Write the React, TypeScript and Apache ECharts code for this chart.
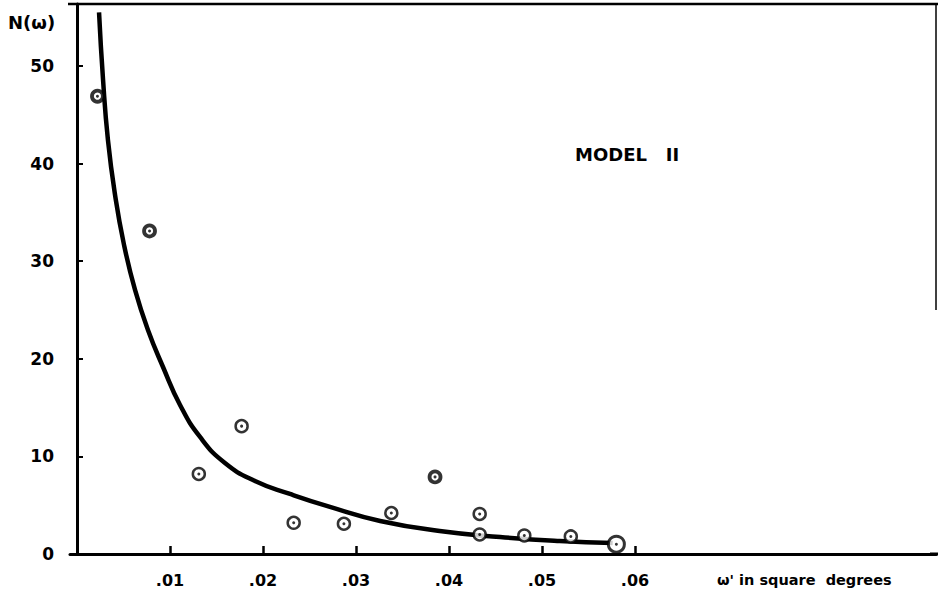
import React, { useEffect, useRef } from "react";
import * as echarts from "echarts";

// observed points: omega (square degrees) and N(omega)
const pointOmega = [0.0022, 0.0078, 0.0131, 0.0177, 0.0233, 0.0287, 0.0338, 0.0385, 0.0433, 0.0433, 0.0481, 0.0531, 0.058];
const pointN = [46.9, 33.1, 8.2, 13.1, 3.2, 3.1, 4.2, 7.9, 4.1, 2.0, 1.9, 1.8, 1.0];

// Model II curve
const curveOmega = [0.00237, 0.0028, 0.00333, 0.00409, 0.00505, 0.00624, 0.00763, 0.00925, 0.01108, 0.01323, 0.01591, 0.01914, 0.0229, 0.0272, 0.0326, 0.039, 0.0455, 0.0519, 0.0576];
const curveN = [55.5, 48.6, 42.4, 36.8, 31.7, 27.05, 22.95, 19.16, 15.27, 11.99, 9.32, 7.48, 6.15, 4.82, 3.38, 2.36, 1.74, 1.33, 1.13];

const xTicks = [0.01, 0.02, 0.03, 0.04, 0.05, 0.06];
const xTickLabels = [".01", ".02", ".03", ".04", ".05", ".06"];
const yTicks = [0, 10, 20, 30, 40, 50];

const darkIdx = [0, 1, 7];
const bigIdx = [12];

const FONT = "DejaVu Sans";

export default function App() {
  const ref = useRef<HTMLDivElement>(null);
  useEffect(() => {
    if (!ref.current) return;
    const chart = echarts.init(ref.current, undefined, { renderer: "svg" });
    const ringData = pointOmega.map((x, i) => {
      const item: any = { value: [x, pointN[i]] };
      if (darkIdx.includes(i)) {
        item.symbolSize = 11;
        item.itemStyle = { color: "#fff", borderColor: "#000", borderWidth: 3.8 };
      } else if (bigIdx.includes(i)) {
        item.symbolSize = 16;
        item.itemStyle = { color: "#fff", borderColor: "#000", borderWidth: 3 };
      }
      return item;
    });
    chart.setOption({
      animation: false,
      backgroundColor: "#fff",
      grid: { left: 70, right: 2, top: 4, bottom: 41 },
      xAxis: {
        type: "value",
        min: -0.000753,
        max: 0.09237,
        splitLine: { show: false },
        axisLine: { show: true, onZero: false, lineStyle: { color: "#000", width: 3 } },
        axisTick: { show: true, inside: true, length: 8, lineStyle: { color: "#000", width: 2.5 }, customValues: xTicks },
        axisLabel: {
          customValues: xTicks,
          formatter: (v: number) => {
            const i = xTicks.findIndex((t) => Math.abs(t - v) < 1e-9);
            return i >= 0 ? xTickLabels[i] : "";
          },
          color: "#000",
          fontFamily: FONT,
          fontWeight: "bold",
          fontSize: 16,
          margin: 18,
        },
      },
      yAxis: {
        type: "value",
        min: 0,
        max: 56.35,
        splitLine: { show: false },
        axisLine: { show: true, lineStyle: { color: "#000", width: 3 } },
        axisTick: { show: true, inside: true, length: 6, lineStyle: { color: "#000", width: 2 }, customValues: yTicks },
        axisLabel: {
          customValues: yTicks,
          color: "#000",
          fontFamily: FONT,
          fontWeight: "bold",
          fontSize: 17,
          margin: 16,
        },
      },
      series: [
        {
          type: "line",
          data: curveOmega.map((x, i) => [x, curveN[i]]),
          smooth: 0.5,
          showSymbol: false,
          lineStyle: { color: "#000", width: 4.5 },
          z: 2,
        },
        {
          type: "scatter",
          data: ringData,
          symbol: "circle",
          symbolSize: 12,
          itemStyle: { color: "#fff", borderColor: "#000", borderWidth: 2.5 },
          z: 3,
        },
        {
          type: "scatter",
          data: pointOmega.map((x, i) => [x, pointN[i]]),
          symbol: "circle",
          symbolSize: 3,
          itemStyle: { color: "#000" },
          z: 4,
        },
      ],
      graphic: [
        { type: "line", z: 100, shape: { x1: 68, y1: 4, x2: 938, y2: 4 }, style: { stroke: "#000", lineWidth: 2.5 } },
        { type: "line", z: 100, shape: { x1: 936, y1: 4, x2: 936, y2: 310 }, style: { stroke: "#000", lineWidth: 1.5 } },
        { type: "line", z: 100, shape: { x1: 930, y1: 554, x2: 938, y2: 554 }, style: { stroke: "#000", lineWidth: 3 } },
        {
          type: "text",
          left: 8,
          top: 13,
          style: { text: "N(ω)", fill: "#000", font: `bold 18px "${FONT}"` },
        },
        {
          type: "text",
          left: 575,
          top: 145,
          style: { text: "MODEL   II", fill: "#000", font: `bold 18px "${FONT}"` },
        },
        {
          type: "text",
          left: 717,
          top: 572,
          style: { text: "ω' in square  degrees", fill: "#000", font: `bold 14.5px "${FONT}"` },
        },
      ],
    });
    return () => chart.dispose();
  }, []);
  return <div ref={ref} style={{ position: "fixed", left: 0, top: 0, width: 938, height: 595 }} />;
}
